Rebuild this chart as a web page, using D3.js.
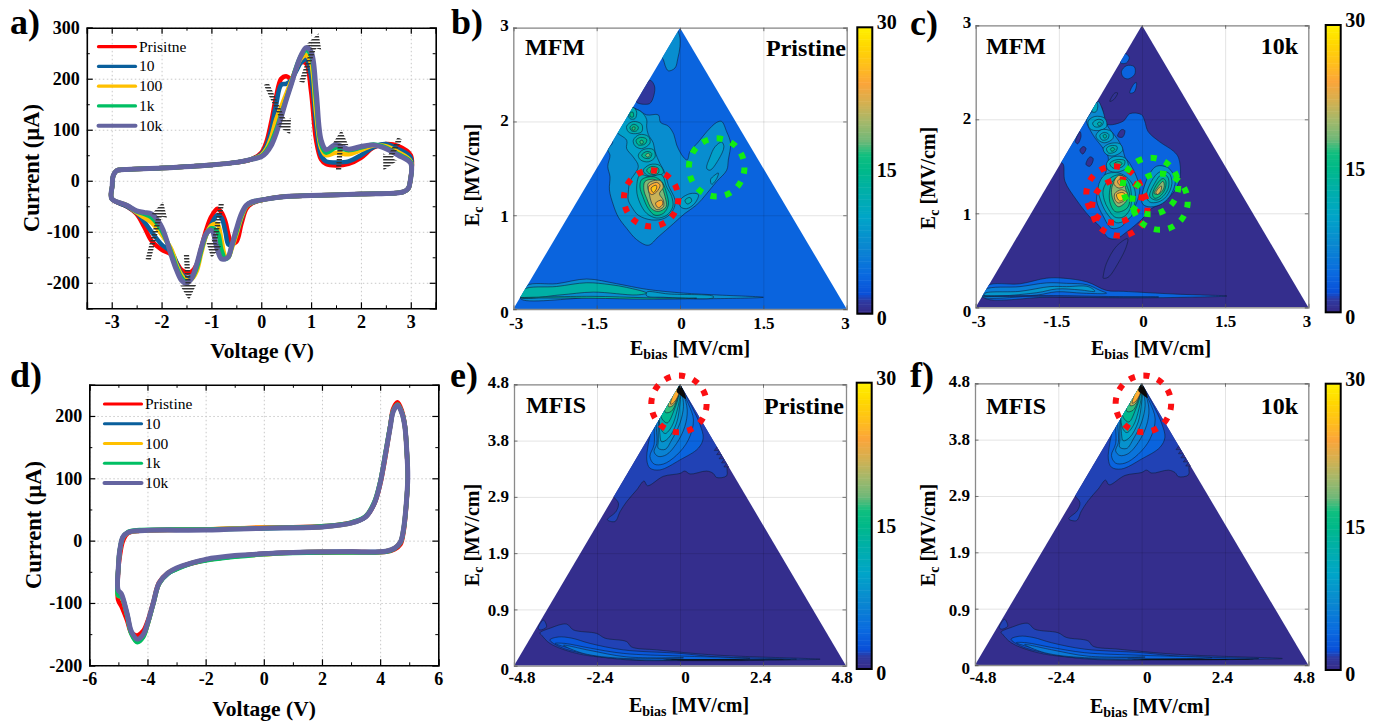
<!DOCTYPE html>
<html>
<head>
<meta charset="utf-8">
<script src="https://cdn.jsdelivr.net/npm/d3@7"></script>
<style>
    html, body { margin: 0; padding: 0; background: #fff; }
    svg { display: block; }
    text { font-family: "Liberation Serif", serif; fill: #000; }
    .bold { font-weight: bold; }
</style>
</head>
<body>
<svg id="chart" width="1381" height="721"></svg>
<script>
//////////////////// Data ////////////////////

const seriesColors = ["#ff0000", "#0a5f9c", "#ffc000", "#00bf63", "#6464a0"];
const legendA = ["Prisitne", "10", "100", "1k", "10k"];
const legendD = ["Pristine", "10", "100", "1k", "10k"];

// panel a: I-V loop, sweep goes -3 -> 3 -> -3
const aRiseV = [-3, -2.99, -2.97, -2.9, -2.75, -2, -1, -0.5, -0.2];
const aRiseI = [-35, -10, 10, 20, 22, 25, 31, 36, 42];
const aPeakV = [0, .1, .2, .3, .4, .5, .6, .7, .8, .9, 1, 1.1, 1.2, 1.3, 1.5, 1.75, 2, 2.25, 2.5, 2.75, 3];
const aPeakPristine = [55, 75, 115, 165, 200, 205, 200, 218, 232, 230, 175, 80, 42, 33, 30, 33, 45, 65, 72, 68, 50];
const aPeak10 = [52, 68, 100, 150, 188, 190, 197, 215, 232, 238, 205, 110, 50, 38, 36, 38, 50, 66, 72, 62, 45];
const aPeak100 = [50, 62, 85, 120, 145, 170, 195, 220, 240, 246, 230, 135, 65, 50, 55, 52, 60, 69, 68, 56, 38];
const aPeak1k = [48, 58, 75, 100, 130, 160, 190, 222, 245, 256, 245, 160, 72, 55, 65, 60, 65, 71, 65, 52, 36];
const aPeak10k = [47, 55, 69, 93, 125, 158, 188, 220, 246, 261, 253, 178, 80, 61, 71, 62, 67, 70, 63, 50, 34];
const aReturnV = [2.99, 2.95, 2.85, 2, 1, .5, .1];
const aReturnI = [0, -15, -22, -26, -29, -31, -36];
const aValleyV = [-.2, -.3, -.4, -.5, -.6, -.66, -.72, -.8, -.88, -1, -1.1, -1.2, -1.3, -1.4, -1.5, -1.6, -1.7, -1.8, -2, -2.2, -2.35, -2.5, -2.7];
const aValleyPristine = [-45, -55, -85, -120, -122, -105, -80, -62, -55, -70, -95, -130, -165, -178, -180, -175, -160, -145, -135, -118, -90, -65, -50];
const aValley10 = [-44, -50, -75, -105, -125, -125, -100, -72, -67, -85, -105, -135, -170, -188, -190, -182, -160, -140, -125, -100, -80, -63, -50];
const aValley100 = [-43, -50, -72, -105, -135, -150, -148, -115, -85, -88, -105, -140, -178, -193, -195, -185, -165, -135, -105, -82, -72, -62, -48];
const aValley1k = [-42, -49, -68, -100, -132, -150, -153, -135, -100, -93, -104, -135, -172, -192, -198, -190, -170, -142, -97, -72, -65, -60, -48];
const aValley10k = [-42, -48, -65, -95, -130, -149, -153, -153, -135, -97, -103, -130, -165, -192, -201, -195, -175, -148, -90, -65, -62, -59, -48];

// hatched arrows of panel a: from [V, I] to [V, I]
const aArrows = [
    [[.1, 190], [.58, 90]], [[.81, 193], [1.15, 289]], [[1.55, 20], [1.61, 100]], [[2.78, 83], [2.45, 20]],
    [[-2.27, -155], [-1.97, -41]], [[-1.5, -145], [-1.45, -234]], [[-.8, -45], [-1, -152]]
];

// panel d: I-V loop
const dVoltage = [-5, -4.95, -4.84, -4.67, -4.27, -2, 0, 2, 3, 3.5, 3.8, 4, 4.2, 4.35, 4.45, 4.6, 4.75, 4.85, 4.92, 4.95, 4.9, 4.8, 4.7, 4.5, 4.2, 3, 2, 1, 0, -1, -2, -2.5, -3, -3.3, -3.6, -3.8, -4, -4.15, -4.35, -4.55, -4.7, -4.9, -5.01];
const dPristine = [-45, -25, 0, 12, 16, 18, 21, 23, 29, 38, 59, 90, 140, 185, 212, 222, 208, 185, 140, 102, 57, 12, -6, -14, -18, -18, -19, -19, -21, -25, -31, -37, -45, -52, -67, -99, -130, -145, -152, -148, -128, -105, -95];
const d10 = [-42, -15, 6, 13, 16, 18, 20, 22, 28, 38, 60, 93, 144, 184, 208, 218, 205, 184, 141, 103, 60, 17, -2, -12, -17, -18, -18, -19, -21, -25, -31, -36, -45, -53, -69, -101, -134, -153, -161, -148, -118, -88, -85];
const d100 = [-42, -16, 5, 13, 16, 18, 21, 22, 28, 39, 61, 93, 144, 184, 208, 218, 205, 183, 140, 103, 60, 17, -2, -12, -17, -19, -18, -19, -22, -25, -31, -36, -45, -52, -69, -101, -135, -154, -162, -149, -119, -90, -88];
const d1k = [-42, -15, 6, 14, 17, 18, 20, 23, 29, 39, 62, 94, 145, 185, 208, 218, 205, 184, 140, 103, 59, 16, -3, -13, -18, -19, -19, -20, -22, -26, -32, -37, -46, -53, -69, -101, -135, -155, -163, -150, -120, -90, -88];
const d10k = [-42, -15, 6, 13, 16, 17, 20, 22, 28, 38, 60, 92, 143, 183, 207, 217, 204, 183, 140, 103, 60, 17, -2, -12, -17, -18, -18, -19, -21, -24, -30, -36, -44, -52, -68, -100, -133, -151, -158, -146, -117, -85, -79];

// ticks
const aTicksX = [-3, -2, -1, 0, 1, 2, 3];
const aTicksY = [-200, -100, 0, 100, 200, 300];
const dTicksX = [-6, -4, -2, 0, 2, 4, 6];
const dTicksY = [-200, -100, 0, 100, 200];
const mfmTicksX = [-3, -1.5, 0, 1.5, 3];
const mfmTicksY = [0, 1, 2, 3];
const mfisTicksX = [-4.8, -2.4, 0, 2.4, 4.8];
const mfisTicksY = [0, .96, 1.92, 2.88, 3.84, 4.8];
const mfisLabelsY = ["0", "0.9", "1.9", "2.9", "3.8", "4.8"];
const colorbarTicks = [0, 15, 30];

// colour map
const colorLevels = [0, 1.2, 2, 4, 7, 10, 13, 15, 16.5, 18, 20, 22, 24, 26, 28, 30];
const colorValues = ["#352a87", "#2f3aa0", "#0a50d8", "#0a6ae0", "#0a88d0", "#00a5c8", "#00b0a5", "#00b988",
    "#10bf7f", "#70b878", "#a5b86a", "#d5b050", "#fba53a", "#ffc01a", "#ffd800", "#fff200"];

// Contours: [level, [[Ebias, Ec], ...]], painted in this order
const contoursB = [
    [1, [[-.54, 2.44], [-.46, 2.38], [-.47, 2.28], [-.55, 2.19], [-.79, 2.21], [-.69, 2.32]]],
    [7.5, [[-.01, 2.92], [0, 2.8], [-.04, 2.67], [-.09, 2.57], [-.21, 2.54], [-.27, 2.6], [-.3, 2.66], [-.42, 2.75], [-.1, 3.02]]],
    [7.5, [[-.85, 2.15], [-.74, 2.12], [-.6, 2.07], [-.39, 2.07], [-.35, 1.99], [-.21, 1.95], [-.11, 1.86], [-.06, 1.75], [.06, 1.62], [.13, 1.59], [.18, 1.68], [.33, 1.78], [.48, 1.89], [.66, 1.99], [.75, 2], [.84, 1.89], [.91, 1.77], [.87, 1.59], [.84, 1.48], [.66, 1.36], [.48, 1.23], [.3, 1.11], [.09, 1.02], [-.12, .91], [-.39, .77], [-.57, .68], [-.78, .74], [-.96, .86], [-1.11, .98], [-1.2, 1.11], [-1.27, 1.27], [-1.26, 1.41], [-1.3, 1.52], [-1.26, 1.64], [-1.3, 1.7], [-1.21, 1.78], [-1.3, 1.9], [-1, 2.25]]],
    [9.5, [[-.85, 2.15], [-.69, 2.1], [-.6, 2.02], [-.6, 1.94], [-.57, 1.86], [-.48, 1.77], [-.45, 1.68], [-.36, 1.55], [-.27, 1.45], [-.21, 1.32], [-.09, 1.16], [-.12, 1.06], [-.27, .97], [-.51, .95], [-.75, 1], [-.87, 1.09], [-.93, 1.16], [-.93, 1.25], [-.9, 1.36], [-.75, 1.52], [-.84, 1.62], [-.96, 1.71], [-.96, 1.8], [-1.15, 1.9], [-1.05, 2.05], [-.95, 2.2]]],
    [9.5, [[.75, 1.78], [.79, 1.73], [.69, 1.59], [.54, 1.48], [.48, 1.5], [.54, 1.62], [.63, 1.73]]],
    [9.5, [[.69, 1.45], [.66, 1.39], [.57, 1.33], [.55, 1.38], [.63, 1.43]]],
    [9.5, [[0, 1.16], [.18, 1.23], [.33, 1.22], [.27, 1.13], [.12, 1.07], [.01, 1.09]]],
    [12, [[.09, 1.16], [.18, 1.19], [.21, 1.15], [.13, 1.12]]],
    [12, [[-.93, 2.1], [-.84, 2.15], [-.78, 2.1], [-.81, 2.03], [-.9, 2.03]]],
    [15, [[-.9, 2.09], [-.85, 2.1], [-.84, 2.05], [-.89, 2.05]]],
    [12, [[-.96, 1.95], [-.84, 2], [-.69, 1.97], [-.69, 1.89], [-.84, 1.87], [-.93, 1.89]]],
    [14.5, [[-.9, 1.94], [-.83, 1.97], [-.75, 1.94], [-.78, 1.9], [-.87, 1.9]]],
    [17, [[-.85, 1.94], [-.81, 1.94], [-.82, 1.91], [-.86, 1.91]]],
    [12, [[-.84, 1.8], [-.73, 1.86], [-.57, 1.84], [-.54, 1.77], [-.69, 1.71], [-.81, 1.74]]],
    [14.5, [[-.79, 1.8], [-.71, 1.83], [-.6, 1.81], [-.63, 1.76], [-.75, 1.75]]],
    [17, [[-.72, 1.79], [-.68, 1.8], [-.66, 1.77], [-.7, 1.76]]],
    [12, [[-.75, 1.64], [-.66, 1.7], [-.48, 1.7], [-.45, 1.62], [-.57, 1.57], [-.71, 1.59]]],
    [14.5, [[-.69, 1.64], [-.6, 1.68], [-.51, 1.66], [-.54, 1.61], [-.64, 1.61]]],
    [18, [[-.62, 1.64], [-.57, 1.66], [-.54, 1.64], [-.58, 1.62]]],
    [12, [[-.66, 1.48], [-.54, 1.54], [-.36, 1.53], [-.3, 1.45], [-.48, 1.42], [-.6, 1.43]]],
    [16, [[-.6, 1.48], [-.51, 1.52], [-.39, 1.5], [-.39, 1.45], [-.54, 1.44]]],
    [20, [[-.53, 1.47], [-.47, 1.5], [-.42, 1.48], [-.45, 1.44], [-.52, 1.45]]],
    [12, [[-.72, 1.43], [-.54, 1.41], [-.33, 1.43], [-.24, 1.3], [-.15, 1.2], [-.13, 1.09], [-.24, 1], [-.42, .97], [-.6, 1.02], [-.72, 1.13], [-.78, 1.27]]],
    [15.5, [[-.69, 1.38], [-.48, 1.41], [-.33, 1.36], [-.24, 1.23], [-.21, 1.11], [-.3, 1.02], [-.45, 1], [-.57, 1.07], [-.67, 1.2], [-.72, 1.3]]],
    [18.5, [[-.63, 1.36], [-.45, 1.38], [-.33, 1.3], [-.27, 1.2], [-.25, 1.09], [-.39, 1.04], [-.51, 1.07], [-.6, 1.18], [-.65, 1.27]]],
    [21.5, [[-.57, 1.34], [-.36, 1.37], [-.3, 1.3], [-.37, 1.23], [-.3, 1.16], [-.3, 1.09], [-.42, 1.06], [-.51, 1.13], [-.55, 1.22]]],
    [24.5, [[-.56, 1.31], [-.42, 1.35], [-.36, 1.32], [-.42, 1.25], [-.51, 1.22], [-.56, 1.25]]],
    [24.5, [[-.44, 1.13], [-.33, 1.16], [-.31, 1.12], [-.39, 1.08]]],
    [26.5, [[-.52, 1.29], [-.43, 1.32], [-.42, 1.29], [-.48, 1.24]]],
    [7.5, [[-2.76, .25], [-2.22, .27], [-1.68, .32], [-1.14, .27], [-.6, .21], [.06, .17], [.66, .15], [1.5, .125], [.6, .11], [-.3, .11], [-1.56, .12], [-2.88, .115]]],
    [9, [[-.6, .18], [-.2, .16], [.6, .135], [.6, .12], [-.3, .125], [-.6, .14]]],
    [13, [[-2.81, .21], [-2.22, .24], [-1.68, .28], [-1.26, .26], [-.96, .23], [-.6, .17], [-.78, .15], [-1.56, .18], [-2.16, .15], [-2.87, .125]]],
    [14, [[-2.88, .12], [-1.6, .135], [-.6, .12], [.3, .115], [-.6, .105], [-1.6, .115]]]
];

const contoursC = [
    [3.5, [[-.37, 2.51], [-.28, 2.57], [-.14, 2.56], [-.13, 2.48], [-.25, 2.43], [-.34, 2.45]]],
    [3.5, [[-.39, 2.6], [-.31, 2.7], [-.23, 2.66], [-.28, 2.6]]],
    [3.5, [[-.22, 2.28], [-.14, 2.38], [-.1, 2.39], [-.14, 2.29]]],
    [.6, [[-.58, 2.19], [-.49, 2.28], [-.44, 2.28], [-.51, 2.21]]],
    [.6, [[-.7, .33], [-.64, .47], [-.46, .65], [-.26, .73], [-.28, .65], [-.43, .47], [-.61, .32], [-.7, .31]]],
    [3.5, [[-.83, 2.19], [-.73, 2.13], [-.64, 1.95], [-.34, 1.98], [-.22, 2.06], [-.01, 2.05], [.05, 1.98], [.11, 1.87], [.32, 1.76], [.57, 1.66], [.66, 1.59], [.69, 1.39], [.6, 1.25], [.38, 1.11], [.17, 1.05], [.02, .95], [-.28, .8], [-.46, .73], [-.61, .74], [-.76, .86], [-.94, .96], [-1.18, 1.14], [-1.39, 1.34], [-1.43, 1.53], [-1.55, 1.55], [-1, 2.25]]],
    [.5, [[-1.12, 1.67], [-1.06, 1.71], [-1.01, 1.69], [-1.07, 1.63]]],
    [.5, [[-1.01, 1.52], [-.94, 1.6], [-.88, 1.58], [-.94, 1.5]]],
    [.5, [[-.44, 1.82], [-.37, 1.89], [-.31, 1.88], [-.35, 1.81]]],
    [.5, [[-1.2, 1.76], [-1.12, 1.87], [-1.1, 1.82], [-1.16, 1.74]]],
    [7, [[-.79, 2.19], [-.7, 2.08], [-.64, 1.95], [-.55, 1.87], [-.43, 1.78], [-.34, 1.67], [-.31, 1.6], [-.22, 1.53], [-.1, 1.39], [-.04, 1.25], [-.1, 1.11], [-.22, .97], [-.37, .86], [-.55, .84], [-.7, .97], [-.82, 1.14], [-.77, 1.28], [-.64, 1.46], [-.61, 1.6], [-.7, 1.69], [-.88, 1.83], [-1, 1.99], [-.91, 2.08], [-.85, 2.15]]],
    [11, [[-.87, 2.2], [-.8, 2.16], [-.83, 2.08], [-.9, 2.08]]],
    [9.5, [[-.97, 1.98], [-.85, 2.03], [-.67, 2.01], [-.64, 1.92], [-.79, 1.88], [-.94, 1.9]]],
    [11, [[-.89, 1.96], [-.79, 2], [-.7, 1.98], [-.73, 1.93], [-.85, 1.92]]],
    [13, [[-.8, 1.96], [-.75, 1.97], [-.73, 1.95], [-.78, 1.93]]],
    [9.5, [[-.83, 1.83], [-.73, 1.89], [-.55, 1.87], [-.52, 1.8], [-.67, 1.75], [-.79, 1.78]]],
    [11, [[-.76, 1.83], [-.68, 1.86], [-.6, 1.84], [-.62, 1.79], [-.72, 1.78]]],
    [13.5, [[-.7, 1.83], [-.66, 1.84], [-.64, 1.81], [-.68, 1.8]]],
    [9.5, [[-.7, 1.69], [-.59, 1.74], [-.4, 1.74], [-.35, 1.67], [-.52, 1.61], [-.65, 1.63]]],
    [12, [[-.64, 1.69], [-.56, 1.72], [-.45, 1.71], [-.47, 1.66], [-.6, 1.64]]],
    [14.5, [[-.57, 1.68], [-.53, 1.7], [-.49, 1.68], [-.54, 1.66]]],
    [10, [[-.64, 1.53], [-.52, 1.6], [-.31, 1.59], [-.25, 1.5], [-.43, 1.44], [-.61, 1.46]]],
    [13, [[-.58, 1.53], [-.46, 1.57], [-.31, 1.56], [-.34, 1.5], [-.52, 1.48]]],
    [16, [[-.5, 1.53], [-.42, 1.55], [-.36, 1.53], [-.42, 1.5]]],
    [11, [[-.79, 1.28], [-.67, 1.41], [-.43, 1.43], [-.25, 1.37], [-.13, 1.25], [-.13, 1.11], [-.19, .97], [-.31, .92], [-.46, .9], [-.61, .98], [-.73, 1.11]]],
    [13, [[-.7, 1.25], [-.58, 1.37], [-.4, 1.41], [-.25, 1.34], [-.19, 1.18], [-.22, 1.04], [-.34, .96], [-.49, .96], [-.61, 1.05], [-.68, 1.14]]],
    [16, [[-.58, 1.25], [-.52, 1.35], [-.37, 1.39], [-.28, 1.3], [-.22, 1.19], [-.25, 1.07], [-.37, 1.02], [-.49, 1.02], [-.58, 1.12]]],
    [19, [[-.55, 1.25], [-.49, 1.34], [-.34, 1.35], [-.29, 1.25], [-.25, 1.18], [-.31, 1.11], [-.43, 1.07], [-.52, 1.14]]],
    [22, [[-.49, 1.21], [-.37, 1.25], [-.26, 1.21], [-.31, 1.14], [-.43, 1.11], [-.49, 1.15]]],
    [22, [[-.51, 1.32], [-.43, 1.4], [-.31, 1.38], [-.32, 1.29], [-.43, 1.27]]],
    [26, [[-.46, 1.2], [-.34, 1.22], [-.29, 1.18], [-.4, 1.13]]],
    [24, [[-.44, 1.34], [-.38, 1.37], [-.34, 1.34], [-.4, 1.3]]],
    [8, [[0, 1.11], [.08, 1.35], [.26, 1.5], [.48, 1.48], [.6, 1.35], [.5, 1.18], [.32, 1.09], [.11, 1.07]]],
    [11, [[.08, 1.18], [.17, 1.34], [.32, 1.44], [.48, 1.43], [.54, 1.32], [.44, 1.18], [.29, 1.12], [.14, 1.12]]],
    [13, [[.14, 1.18], [.23, 1.32], [.35, 1.41], [.46, 1.39], [.48, 1.28], [.38, 1.18], [.26, 1.14]]],
    [16, [[.19, 1.2], [.28, 1.32], [.38, 1.37], [.43, 1.34], [.41, 1.25], [.32, 1.18], [.23, 1.16]]],
    [19, [[.22, 1.21], [.31, 1.3], [.38, 1.34], [.4, 1.28], [.32, 1.21]]],
    [22, [[.25, 1.22], [.32, 1.28], [.35, 1.29], [.34, 1.24], [.28, 1.2]]],
    [3.5, [[-2.79, .23], [-2.2, .25], [-1.72, .31], [-1.42, .31], [-.99, .27], [-.64, .18], [-.34, .17], [.63, .14], [1.53, .12], [.63, .105], [-.34, .1], [-1.6, .11], [-2.85, .105]]],
    [6, [[-2.83, .19], [-2.2, .22], [-1.72, .26], [-1.36, .255], [-.99, .24], [-.76, .18], [-.64, .15], [-1.06, .15], [-1.54, .165], [-1.9, .13], [-2.89, .115]]],
    [8.5, [[-2.83, .15], [-2.2, .17], [-1.66, .22], [-1.36, .22], [-.97, .22], [-.85, .17], [-1.12, .185], [-1.54, .195], [-1.9, .155], [-2.85, .125]]],
    [1.5, [[-2.88, .12], [-1.6, .125], [-.6, .115], [.3, .11], [-.6, .105], [-1.6, .11]]]
];

// e and f read the same within what can be seen
const contoursMfis = [
    [1.5, [[-1.95, 2.9], [-1.78, 2.77], [-1.85, 2.63], [-2.1, 2.49], [-1.88, 2.46], [-1.73, 2.63], [-1.54, 2.8], [-1.25, 3], [-1.04, 3.15], [-.94, 3.07], [-.48, 3.23], [0, 3.28], [.14, 3.32], [.29, 3.27], [.77, 3.32], [.96, 3.28], [1.06, 3.21], [1.35, 3.24], [1.38, 3.4], [1.8, 3.4], [0, 5.1], [-2.3, 3.2]]],
    [1.5, [[-4.1, .64], [-3.95, .78], [-3.86, .66], [-4.05, .61]]],
    [3.5, [[-.96, 3.51], [-.92, 3.77], [-.85, 3.99], [-.85, 4.5], [0, 4.9], [.1, 4.7], [.34, 4.42], [.58, 4.11], [.67, 3.88], [.53, 3.71], [0, 3.51], [-.58, 3.34], [-.87, 3.37]]],
    [5, [[-.75, 3.77], [-.87, 3.57], [-.75, 3.44], [-.48, 3.44], [-.1, 3.59], [.24, 3.85], [.39, 4.19], [.24, 4.47], [.05, 4.7], [0, 4.85], [-.7, 4.3]]],
    [6.5, [[-.67, 3.79], [-.75, 3.65], [-.63, 3.57], [-.39, 3.6], [-.1, 3.79], [.14, 4.08], [.21, 4.36], [.1, 4.65], [0, 4.85], [-.65, 4.35]]],
    [8, [[-.63, 3.82], [-.63, 3.71], [-.43, 3.69], [-.24, 3.85], [0, 4.14], [.1, 4.42], [.05, 4.68], [0, 4.85], [-.55, 4.4]]],
    [10, [[-.58, 3.94], [-.53, 3.82], [-.34, 3.88], [-.1, 4.14], [0, 4.48], [.02, 4.7], [-.05, 4.85], [-.55, 4.4]]],
    [12, [[-.56, 4.05], [-.43, 3.96], [-.24, 4.08], [-.08, 4.36], [0, 4.65], [-.08, 4.85], [-.55, 4.45]]],
    [14.5, [[-.53, 4.22], [-.37, 4.14], [-.17, 4.36], [-.04, 4.62], [-.1, 4.85], [-.55, 4.4]]],
    [17, [[-.42, 4.32], [-.25, 4.34], [-.08, 4.55], [-.03, 4.7], [-.15, 4.78], [-.42, 4.48]]],
    [21, [[-.33, 4.42], [-.2, 4.44], [-.05, 4.62], [-.05, 4.72], [-.15, 4.72], [-.3, 4.55]]],
    [24.5, [[-.27, 4.46], [-.16, 4.5], [-.02, 4.68], [-.08, 4.75], [-.2, 4.62]]],
    [1.5, [[-4.05, .56], [-3.76, .64], [-3.28, .71], [-3.08, .61], [-2.41, .55], [-2.17, .47], [-1.54, .41], [-1.4, .32], [-.67, .27], [1.06, .18], [4.05, .11], [3.37, .1], [1.06, .085], [-1.54, .11], [-2.99, .21], [-3.76, .38], [-4, .52]]],
    [2.5, [[-3.76, .44], [-3.52, .49], [-3.13, .47], [-2.6, .38], [-1.64, .27], [0, .21], [1.06, .15], [3.37, .11], [1.06, .1], [-1.54, .1], [-2.8, .21], [-3.47, .32]]],
    [3.5, [[-3.61, .38], [-3.33, .38], [-2.6, .3], [-1.64, .21], [0, .165], [2.02, .125], [.1, .1], [-1.54, .11], [-2.8, .24]]],
    [5.5, [[-3.37, .35], [-2.6, .26], [-1.54, .15], [.1, .135], [-1.64, .125], [-2.8, .21]]]
];
// spots where the contour lines run together into solid black
const blackMfis = [
    [[0, 4.82], [.17, 4.55], [0, 4.62], [-.1, 4.68]],
    [[-.5, .105], [3.4, .1], [.1, .09]]
];
// saw teeth of the low level along the right edge
const teethMfis = [
    [[1.08, 3.74], [.99, 3.67], [1.15, 3.67]],
    [[1.15, 3.67], [1.06, 3.6], [1.22, 3.6]],
    [[1.22, 3.6], [1.13, 3.53], [1.29, 3.53]],
    [[1.29, 3.53], [1.2, 3.46], [1.36, 3.46]],
    [[1.36, 3.46], [1.27, 3.39], [1.43, 3.39]]
];

// dashed rings: [Ebias, Ec, half width, half height]
const ringsB = { red: [[-.52, 1.18, .49, .3]], green: [[.66, 1.51, .5, .31]] };
const ringsC = { red: [[-.505, 1.2, .5, .3], [-.4, 1.06, .5, .3]], green: [[.155, 1.29, .5, .3], [.325, 1.124, .5, .3]] };
const ringsE = { red: [[-.03, 4.465, .8, .483]], green: [] };
const ringsF = { red: [[.05, 4.45, .8, .483]], green: [] };

//////////////////// Main ////////////////////

const svg = d3.select("#chart");
const colorScale = d3.scaleLinear().domain(colorLevels).range(colorValues);

const defs = svg.append("defs");
defs.append("pattern")
    .attr("id", "hatch")
    .attr("patternUnits", "userSpaceOnUse")
    .attr("width", 6).attr("height", 3)
    .append("rect")
    .attr("width", 6).attr("height", 1.5)
    .attr("fill", "#333");

function addText(x, y, str, size, opts) {
    opts = opts || {};
    return svg.append("text")
        .attr("x", x).attr("y", y)
        .attr("font-size", size)
        .attr("font-weight", opts.regular ? "normal" : "bold")
        .attr("text-anchor", opts.anchor || "start")
        .text(str);
}

// Rotated/plain title with a subscript, "E" + sub + " [MV/cm]"
function addSubTitle(x, y, sub, rotate) {
    const t = svg.append("text")
        .attr("font-size", 20).attr("font-weight", "bold")
        .attr("text-anchor", "middle")
        .attr("transform", `translate(${x},${y})` + (rotate ? " rotate(-90)" : ""));
    t.append("tspan").text("E");
    t.append("tspan").attr("font-size", 14).attr("dy", 4).text(sub);
    t.append("tspan").attr("dy", -4).text(" [MV/cm]");
}

////////// I-V panels //////////

function drawLoop(p) {
    const x = d3.scaleLinear().domain(p.xDomain).range([p.left, p.right]);
    const y = d3.scaleLinear().domain(p.yDomain).range([p.bottom, p.top]);
    const w = p.right - p.left, h = p.bottom - p.top;
    const g = svg.append("g");

    // dotted grid
    g.append("g").attr("transform", `translate(0,${p.bottom})`)
        .call(d3.axisBottom(x).tickValues(p.ticksX).tickSize(-h).tickFormat(""))
        .call(s => s.select(".domain").remove())
        .selectAll("line").attr("stroke", "#c8c8c8").attr("stroke-dasharray", "1.5 2.5");
    g.append("g").attr("transform", `translate(${p.left},0)`)
        .call(d3.axisLeft(y).tickValues(p.ticksY).tickSize(-w).tickFormat(""))
        .call(s => s.select(".domain").remove())
        .selectAll("line").attr("stroke", "#c8c8c8").attr("stroke-dasharray", "1.5 2.5");

    // curves
    const line = d3.line()
        .x(d => x(d[0])).y(d => y(d[1]))
        .curve(d3.curveCatmullRomClosed.alpha(0.5));
    p.series.forEach((cur, i) => {
        g.append("path")
            .datum(p.voltage.map((v, k) => [v, cur[k]]))
            .attr("d", line)
            .attr("fill", "none")
            .attr("stroke", seriesColors[i])
            .attr("stroke-width", i == 4 ? 5 : 4.5)
            .attr("stroke-linejoin", "round");
    });

    // hatched arrows
    (p.arrows || []).forEach(a => {
        const x0 = x(a[0][0]), y0 = y(a[0][1]), x1 = x(a[1][0]), y1 = y(a[1][1]);
        const len = Math.hypot(x1 - x0, y1 - y0);
        const ux = (x1 - x0) / len, uy = (y1 - y0) / len;
        const nx = -uy, ny = ux;
        const headLen = 15, headW = 8, shaftW = 2.6;
        const bx = x1 - ux * headLen, by = y1 - uy * headLen;
        const pts = [
            [x0 + nx * shaftW, y0 + ny * shaftW], [bx + nx * shaftW, by + ny * shaftW],
            [bx + nx * headW, by + ny * headW], [x1, y1],
            [bx - nx * headW, by - ny * headW], [bx - nx * shaftW, by - ny * shaftW],
            [x0 - nx * shaftW, y0 - ny * shaftW]
        ];
        g.append("polygon").attr("points", pts.join(" ")).attr("fill", "url(#hatch)");
    });

    // frame with ticks on all four sides
    const axes = [
        [d3.axisBottom, x, `translate(0,${p.bottom})`, p.ticksX, p.minorX, true],
        [d3.axisTop, x, `translate(0,${p.top})`, p.ticksX, p.minorX, false],
        [d3.axisLeft, y, `translate(${p.left},0)`, p.ticksY, p.minorY, true],
        [d3.axisRight, y, `translate(${p.right},0)`, p.ticksY, p.minorY, false]
    ];
    axes.forEach(a => {
        g.append("g").attr("transform", a[2])
            .call(a[0](a[1]).tickValues(a[4]).tickSize(-3).tickFormat(""))
            .call(s => s.select(".domain").remove())
            .selectAll("line").attr("stroke", "#000").attr("stroke-width", 1);
        const ax = g.append("g").attr("transform", a[2])
            .call(a[0](a[1]).tickValues(a[3]).tickSize(-6).tickPadding(7).tickFormat(a[5] ? (d => String(d)) : ""));
        ax.select(".domain").attr("stroke", "#000").attr("stroke-width", 1.6);
        ax.selectAll("line").attr("stroke", "#000").attr("stroke-width", 1.2);
        ax.selectAll("text").attr("class", "bold").attr("font-size", 18)
            .attr("font-family", "Liberation Serif").attr("fill", "#000");
    });

    // legend
    const legendY = d3.scaleLinear().domain([0, 4]).range([p.legend.top, p.legend.bottom]);
    p.legend.names.forEach((name, i) => {
        g.append("line")
            .attr("x1", p.legend.left).attr("x2", p.legend.left + 37)
            .attr("y1", legendY(i)).attr("y2", legendY(i))
            .attr("stroke", seriesColors[i]).attr("stroke-width", i == 4 ? 4 : 3.2)
            .attr("stroke-linecap", "round");
        addText(p.legend.left + 40.5, legendY(i) + 5, name, 15.5, { regular: true });
    });
}

const aVoltage = aRiseV.concat(aPeakV, aReturnV, aValleyV);
const aCurrents = [
    [aPeakPristine, aValleyPristine], [aPeak10, aValley10], [aPeak100, aValley100], [aPeak1k, aValley1k], [aPeak10k, aValley10k]
].map(s => aRiseI.concat(s[0], aReturnI, s[1]));

drawLoop({
    left: 86.8, right: 435.7, top: 27.7, bottom: 308.3,
    xDomain: [-3.5, 3.5], yDomain: [-250, 300],
    ticksX: aTicksX, ticksY: aTicksY,
    minorX: [-2.5, -1.5, -.5, .5, 1.5, 2.5], minorY: [-250, -150, -50, 50, 150, 250],
    series: aCurrents, voltage: aVoltage, arrows: aArrows,
    legend: { names: legendA, left: 98.5, top: 46.7, bottom: 125.7 }
});

drawLoop({
    left: 89.3, right: 438.3, top: 384.8, bottom: 665.3,
    xDomain: [-6, 6], yDomain: [-200, 250],
    ticksX: dTicksX, ticksY: dTicksY,
    minorX: [-5, -3, -1, 1, 3, 5], minorY: [-150, -50, 50, 150, 250],
    series: [dPristine, d10, d100, d1k, d10k], voltage: dVoltage,
    legend: { names: legendD, left: 104.5, top: 404, bottom: 483 }
});

////////// Triangle panels //////////

function drawTriangle(p, idx) {
    const x = d3.scaleLinear().domain([-p.max, p.max]).range([p.left, p.right]);
    const y = d3.scaleLinear().domain([0, p.max]).range([p.bottom, p.top]);
    const w = p.right - p.left, h = p.bottom - p.top;
    const g = svg.append("g");

    const clipId = "tri" + idx;
    defs.append("clipPath").attr("id", clipId)
        .append("polygon")
        .attr("points", [[-p.max, 0], [0, p.max], [p.max, 0]].map(d => [x(d[0]), y(d[1])]).join(" "));

    const body = g.append("g").attr("clip-path", `url(#${clipId})`);
    body.append("rect")
        .attr("x", p.left).attr("y", p.top).attr("width", w).attr("height", h)
        .attr("fill", colorScale(p.base));

    const line = d3.line()
        .x(d => x(d[0])).y(d => y(d[1]))
        .curve(d3.curveCatmullRomClosed.alpha(0.5));

    body.selectAll("path.level")
        .data(p.contours)
        .enter().append("path")
        .attr("class", "level")
        .attr("d", d => line(d[1]))
        .attr("fill", d => colorScale(d[0]))
        .attr("stroke", "#10203a")
        .attr("stroke-width", 0.6);

    const straight = d3.line().x(d => x(d[0])).y(d => y(d[1]));
    body.selectAll("path.tooth")
        .data(p.teeth || [])
        .enter().append("path")
        .attr("class", "tooth")
        .attr("d", d => straight(d) + "Z")
        .attr("fill", colorScale(p.base))
        .attr("stroke", "#10203a")
        .attr("stroke-width", 0.5);

    body.selectAll("path.black")
        .data(p.black || [])
        .enter().append("path")
        .attr("class", "black")
        .attr("d", line)
        .attr("fill", "#0a0a0a");

    // grid on top, faint
    g.append("g").attr("transform", `translate(0,${p.bottom})`)
        .call(d3.axisBottom(x).tickValues(p.ticksX).tickSize(-h).tickFormat(""))
        .call(s => s.select(".domain").remove())
        .selectAll("line").attr("stroke", "#000").attr("stroke-opacity", 0.11);
    g.append("g").attr("transform", `translate(${p.left},0)`)
        .call(d3.axisLeft(y).tickValues(p.ticksY).tickSize(-w).tickFormat(""))
        .call(s => s.select(".domain").remove())
        .selectAll("line").attr("stroke", "#000").attr("stroke-opacity", 0.11);

    // frame
    const axes = [
        [d3.axisBottom, x, `translate(0,${p.bottom})`, p.ticksX, p.formatX, p.padX],
        [d3.axisTop, x, `translate(0,${p.top})`, p.ticksX, "", 0],
        [d3.axisLeft, y, `translate(${p.left},0)`, p.ticksY, p.formatY, p.padY],
        [d3.axisRight, y, `translate(${p.right},0)`, p.ticksY, "", 0]
    ];
    axes.forEach((a, k) => {
        const ax = g.append("g").attr("transform", a[2])
            .call(a[0](a[1]).tickValues(a[3]).tickSize(-3.5).tickPadding(a[5]).tickFormat(a[4] || ""));
        ax.select(".domain").attr("stroke", "#8a8a8a").attr("stroke-width", 1.3);
        ax.selectAll("line").attr("stroke", "#555").attr("stroke-width", 0.8);
        ax.selectAll("text").attr("font-size", 17).attr("font-weight", "bold")
            .attr("font-family", "Liberation Serif").attr("fill", "#000")
            .attr("transform", (d, i) => {
                const n = (k == 0 ? p.nudgeX : p.nudgeY)[i] || 0;
                return k == 0 ? `translate(${n},0)` : `translate(0,${n})`;
            });
    });

    // dashed rings
    const rings = (sel, color) => sel.forEach(r => {
        g.append("ellipse")
            .attr("cx", x(r[0])).attr("cy", y(r[1]))
            .attr("rx", x(r[2]) - x(0)).attr("ry", y(0) - y(r[3]))
            .attr("pathLength", 120)
            .attr("fill", "none")
            .attr("stroke", color)
            .attr("stroke-width", 6)
            .attr("stroke-dasharray", "4.2 5.8");
    });
    rings(p.rings.red, "#fb0f12");
    rings(p.rings.green, "#12ee12");

    // colour bar
    const cbY = d3.scaleLinear().domain([0, 30]).range([p.cb.bottom, p.cb.top]);
    const steps = d3.range(0, 30, 0.25);
    g.selectAll(null).data(steps).enter().append("rect")
        .attr("x", p.cb.left).attr("width", 15)
        .attr("y", d => cbY(d + 0.25)).attr("height", d => cbY(d) - cbY(d + 0.25) + 0.5)
        .attr("fill", d => colorScale(d));
    g.append("rect")
        .attr("x", p.cb.left).attr("y", p.cb.top).attr("width", 15).attr("height", p.cb.bottom - p.cb.top)
        .attr("fill", "none").attr("stroke", "#000").attr("stroke-width", 2);
    const cbAxis = g.append("g").attr("transform", `translate(${p.cb.left + 15},0)`)
        .call(d3.axisRight(cbY).tickValues(colorbarTicks).tickSize(0).tickPadding(4.5));
    cbAxis.select(".domain").remove();
    cbAxis.selectAll("text").attr("font-size", 20).attr("font-weight", "bold")
        .attr("font-family", "Liberation Serif").attr("fill", "#000")
        .attr("transform", (d, i) => `translate(0,${[4.5, 0, -5][i]})`);

    // texts
    addText(p.tag[0], p.tag[1], p.tag[2], 24);
    addText(p.cond[0], p.cond[1], p.cond[2], 24, { anchor: "end" });
    addSubTitle(p.titleX[0], p.titleX[1], "bias", false);
    addSubTitle(p.titleY[0], p.titleY[1], "c", true);
}

const mfmFormat = d => String(d);
const mfisFormatX = d => String(d);
const mfisFormatY = (d, i) => mfisLabelsY[i];

const mfmBase = {
    max: 3, ticksX: mfmTicksX, ticksY: mfmTicksY, formatX: mfmFormat, formatY: mfmFormat,
    padX: 8, padY: 4.5, nudgeX: [2.4, -2.6, 1, 0, -1.7], nudgeY: [3.5, 1, -1, -3]
};
const mfisBase = {
    max: 4.8, ticksX: mfisTicksX, ticksY: mfisTicksY, formatX: mfisFormatX, formatY: mfisFormatY,
    padX: 5.5, padY: 5, nudgeX: [7.5, 2.5, 5, -3, -4.5], nudgeY: [3, 1, 0, -0.5, -0.5, -2],
    contours: contoursMfis, black: blackMfis, teeth: teethMfis, base: 0.3
};

drawTriangle(Object.assign({}, mfmBase, {
    left: 513.3, right: 846.7, top: 27.7, bottom: 309,
    contours: contoursB, base: 3.5, rings: ringsB,
    cb: { left: 857.3, top: 27.3, bottom: 313.7 },
    tag: [525, 55, "MFM"], cond: [846, 56, "Pristine"],
    titleX: [690, 355], titleY: [479, 175]
}), 0);

drawTriangle(Object.assign({}, mfmBase, {
    left: 975.7, right: 1308.3, top: 25.3, bottom: 307.3,
    contours: contoursC, base: 0.3, rings: ringsC,
    cb: { left: 1325.7, top: 25, bottom: 312.3 },
    tag: [986, 54, "MFM"], cond: [1298, 54, "10k"],
    titleX: [1151, 355], titleY: [935, 178]
}), 1);

drawTriangle(Object.assign({}, mfisBase, {
    left: 514, right: 846, top: 384.3, bottom: 665.7,
    rings: ringsE,
    cb: { left: 856.7, top: 382.7, bottom: 669 },
    tag: [526, 413, "MFIS"], cond: [844, 414, "Pristine"],
    titleX: [689, 712], titleY: [479, 535]
}), 2);

drawTriangle(Object.assign({}, mfisBase, {
    left: 975, right: 1308.3, top: 383.3, bottom: 665,
    rings: ringsF,
    cb: { left: 1325.7, top: 383.7, bottom: 670 },
    tag: [986, 414, "MFIS"], cond: [1298, 414, "10k"],
    titleX: [1150, 712.5], titleY: [935, 535]
}), 3);

////////// Panel letters and titles //////////

addText(10, 34, "a)", 36);
addText(451, 34, "b)", 36);
addText(910, 35, "c)", 36);
addText(10, 387, "d)", 36);
addText(450, 387, "e)", 36);
addText(910, 387, "f)", 36);

addText(262, 358, "Voltage (V)", 21.5, { anchor: "middle" });
addText(264, 716, "Voltage (V)", 21.5, { anchor: "middle" });
svg.append("text").attr("class", "bold").attr("font-size", 22.5).attr("text-anchor", "middle")
    .attr("transform", "translate(39,168) rotate(-90)").text("Current (µA)");
svg.append("text").attr("class", "bold").attr("font-size", 22.5).attr("text-anchor", "middle")
    .attr("transform", "translate(41,525) rotate(-90)").text("Current (µA)");
</script>
</body>
</html>
